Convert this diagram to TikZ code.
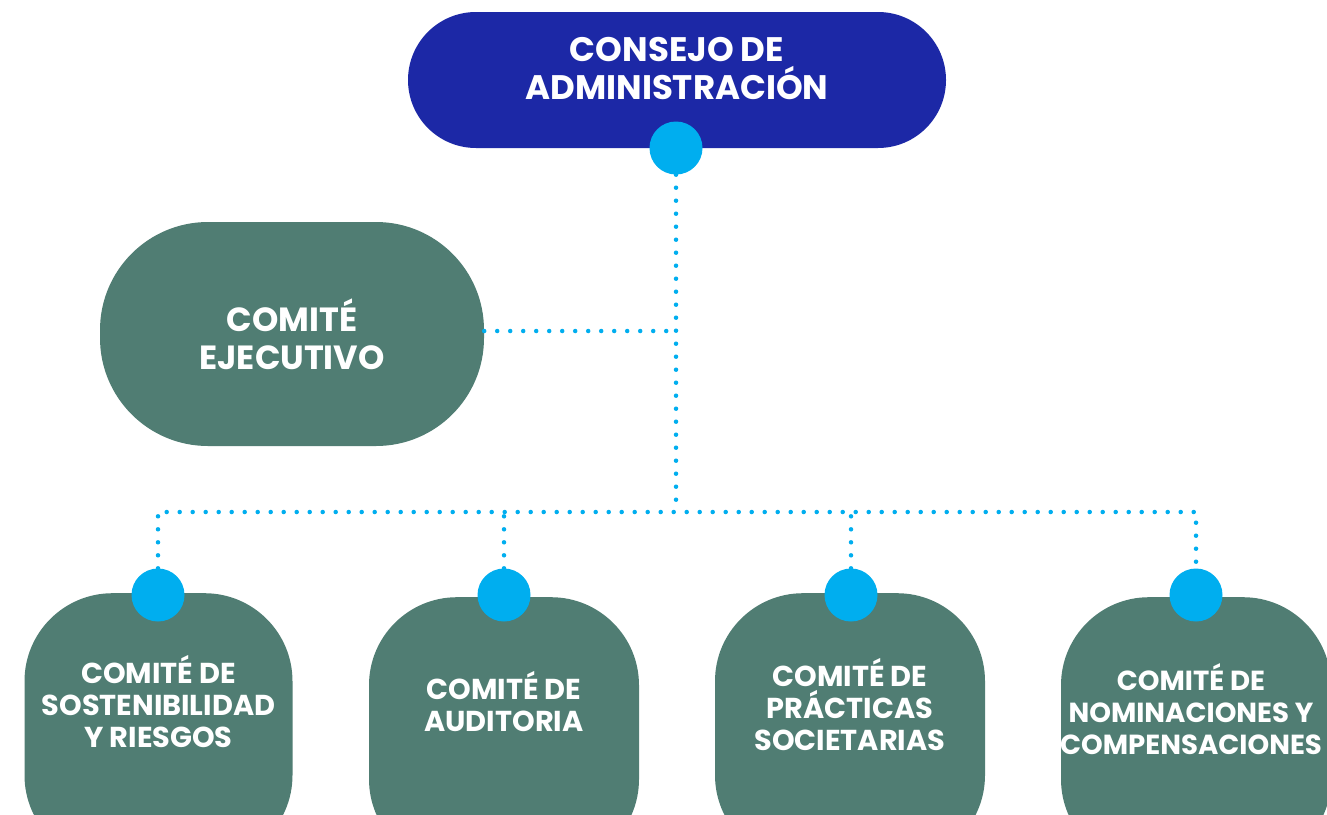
\documentclass[tikz,border=0pt]{standalone}
\usepackage{fontspec}
\setmainfont{Poppins}
\definecolor{navy}{RGB}{28,40,166}
\definecolor{teal}{RGB}{80,125,115}
\definecolor{cyanc}{RGB}{0,174,239}
\begin{document}
\begin{tikzpicture}[x=1pt,y=-1pt,
  bigtxt/.style={text=white,font=\bfseries\fontsize{34}{38}\selectfont,align=center,inner sep=0pt},
  smalltxt/.style={text=white,font=\bfseries\fontsize{28.8}{32}\selectfont,align=center,inner sep=0pt},
  topbox/.style={fill=navy,rounded corners=68pt,minimum width=538pt,minimum height=136pt,inner sep=0pt},
  execbox/.style={fill=teal,rounded corners=108pt,minimum width=384pt,minimum height=224pt,inner sep=0pt},
  combox/.style={fill=teal,rounded corners=88pt,minimum width=270pt,minimum height=270pt,inner sep=0pt,anchor=north},
  knob/.style={circle,fill=cyanc,minimum size=53pt,inner sep=0pt},
  dotline/.style={draw=cyanc,line width=4.5pt,line cap=round,dash pattern=on 0pt off 13pt}]
\useasboundingbox (0,0) rectangle (1327,814);
\clip (0,0) rectangle (1327,814);
\fill[white] (0,0) rectangle (1327,814);
% boxes
\node[topbox] (cons) at (677,80) {};
\node[bigtxt] (tc) at (677,68.5) {CONSEJO DE\\ADMINISTRACIÓN};
\node[execbox] (ejec) at (292,334) {};
\node[bigtxt,font=\bfseries\fontsize{33.5}{38}\selectfont] (te) at (292,334) {COMITÉ\\EJECUTIVO};
\node[combox,minimum width=268pt] (c1) at (158.5,593) {};
\node[combox] (c2) at (504,597) {};
\node[combox] (c3) at (850,593) {};
\node[combox] (c4) at (1196,597) {};
\node[smalltxt] (t1) at (158.5,702) {COMITÉ DE\\SOSTENIBILIDAD\\Y RIESGOS};
\node[smalltxt] (t2) at (504,702) {COMITÉ DE\\AUDITORIA};
\node[smalltxt] (t3) at (850,705) {COMITÉ DE\\PRÁCTICAS\\SOCIETARIAS};
\node[smalltxt,font=\bfseries\fontsize{27.6}{32}\selectfont] (t4) at (1191,709) {COMITÉ DE\\NOMINACIONES Y\\COMPENSACIONES};
% junctions
\coordinate (j1) at (676,331);
\coordinate (j2) at (676,512);
\coordinate (h) at (0,512);
% knobs
\node[knob] (k0) at (676,148) {};
\node[knob] (k1) at (158,595) {};
\node[knob] (k2) at (504,595) {};
\node[knob] (k3) at (851,595) {};
\node[knob] (k4) at (1196,595) {};
% connectors
\draw[dotline] (k0) -- (j2);
\draw[dotline] (ejec.east |- j1) -- (j1);
\draw[dotline] (k1) |- (h -| k4) -- (k4);
\draw[dotline] (k2) -- (k2 |- h);
\draw[dotline] (k3) -- (k3 |- h);
\end{tikzpicture}
\end{document}
